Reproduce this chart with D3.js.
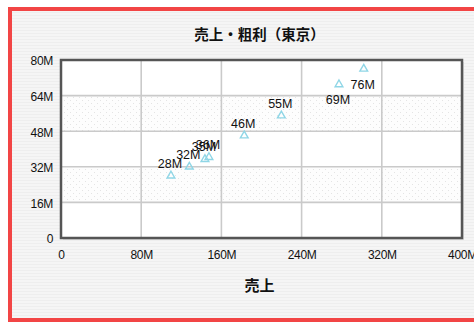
<!DOCTYPE html>
<html><head><meta charset="utf-8">
<script src="https://cdn.jsdelivr.net/npm/d3@7"></script>
<style>html,body{margin:0;padding:0;background:#fff;}svg{display:block;}</style>
</head><body>
<script>
const title = "売上・粗利（東京）";
const xTitle = "売上";
const salesM = [109.7, 128, 143.6, 147.6, 182.8, 219.8, 277.3, 302];
const profitM = [28, 32, 35.4, 36.3, 46, 55, 69, 76];
const xTicks = [0, 80, 160, 240, 320, 400];
const yTicks = [0, 16, 32, 48, 64, 80];
const fmt = v => v === 0 ? "0" : v + "M";

const W = 474, H = 323;
const svg = d3.select("body").append("svg").attr("width", W).attr("height", H);
const defs = svg.append("defs");
const stripe = defs.append("pattern").attr("id","bgp").attr("width",4).attr("height",3).attr("patternUnits","userSpaceOnUse");
stripe.append("rect").attr("width",4).attr("height",3).attr("fill","#f5f5f5");
stripe.append("rect").attr("width",4).attr("height",1).attr("fill","#eeeeee");
const dots = defs.append("pattern").attr("id","dots").attr("width",6).attr("height",6).attr("patternUnits","userSpaceOnUse");
dots.append("rect").attr("width",6).attr("height",6).attr("fill","#fdfdfd");
dots.append("rect").attr("x",1).attr("y",1).attr("width",1).attr("height",1).attr("fill","#e4e4e4");
dots.append("rect").attr("x",4).attr("y",4).attr("width",1).attr("height",1).attr("fill","#e4e4e4");

svg.append("rect").attr("width",W).attr("height",H).attr("fill","#fff");
svg.append("rect").attr("x",10).attr("y",9).attr("width",520).attr("height",311)
  .attr("fill","url(#bgp)").attr("stroke","#f24545").attr("stroke-width",4);

const m = {l:61, r:462, t:60, b:238};
const x = d3.scaleLinear().domain([0,400]).range([m.l, m.r]);
const y = d3.scaleLinear().domain([0,80]).range([m.b, m.t]);

// plot background
svg.append("rect").attr("x",m.l+2).attr("y",m.t+2).attr("width",m.r-m.l).attr("height",m.b-m.t).attr("fill","#dcdcdc");
svg.append("rect").attr("x",m.l).attr("y",m.t).attr("width",m.r-m.l).attr("height",m.b-m.t).attr("fill","#ffffff");
[[16,32],[48,64]].forEach(([a,b]) => {
  svg.append("rect").attr("x",m.l).attr("y",y(b)).attr("width",m.r-m.l).attr("height",y(a)-y(b)).attr("fill","url(#dots)");
});
// grid
svg.append("g").selectAll("line").data(yTicks.filter(v=>v>0&&v<80)).join("line")
  .attr("x1",m.l).attr("x2",m.r).attr("y1",d=>y(d)).attr("y2",d=>y(d))
  .attr("stroke","#cacaca").attr("stroke-width",1.6);
svg.append("g").selectAll("line").data(xTicks.filter(v=>v>0&&v<400)).join("line")
  .attr("y1",m.t).attr("y2",m.b).attr("x1",d=>x(d)).attr("x2",d=>x(d))
  .attr("stroke","#cacaca").attr("stroke-width",1.6);
svg.append("rect").attr("x",m.l).attr("y",m.t).attr("width",m.r-m.l).attr("height",m.b-m.t)
  .attr("fill","none").attr("stroke","#555").attr("stroke-width",2.5);

const font = "'Liberation Sans', Arial, sans-serif";
// axes
const xa = svg.append("g").attr("transform",`translate(0,${m.b+9})`)
  .call(d3.axisBottom(x).tickValues(xTicks).tickFormat(fmt).tickSize(0));
xa.select(".domain").remove();
xa.selectAll("text").attr("font-family",font).attr("font-size",12).attr("letter-spacing",-0.3).attr("fill","#111").attr("dy","0.71em");
const ya = svg.append("g").attr("transform",`translate(${m.l-5},0)`)
  .call(d3.axisLeft(y).tickValues(yTicks).tickFormat(fmt).tickSize(0));
ya.select(".domain").remove();
ya.selectAll("text").attr("font-family",font).attr("font-size",12).attr("letter-spacing",-0.3).attr("fill","#111").attr("dy","0.4em");

// titles
svg.append("text").attr("x",(m.l+m.r)/2 - 2).attr("y",40).attr("text-anchor","middle")
  .attr("font-family","'Noto Sans CJK JP', sans-serif").attr("font-weight","bold").attr("font-size",14.5).attr("fill","#111").text(title);
svg.append("text").attr("x",(m.l+m.r)/2 - 2).attr("y",291).attr("text-anchor","middle")
  .attr("font-family","'Noto Sans CJK JP', sans-serif").attr("font-weight","bold").attr("font-size",15).attr("fill","#111").text(xTitle);

// points
const pts = salesM.map((s,i)=>({s, p: profitM[i]}));
const tri = d3.symbol().type(d3.symbolTriangle).size(26);
svg.append("g").selectAll("path").data(pts).join("path")
  .attr("transform",d=>`translate(${x(d.s)},${y(d.p)})`).attr("d",tri)
  .attr("fill","none").attr("stroke","#8fd6e6").attr("stroke-width",1.4);
svg.append("g").selectAll("text").data(pts).join("text")
  .attr("x",d=>x(d.s)-1)
  .attr("y",d=>d.p>64 ? y(d.p)+20 : y(d.p)-8)
  .attr("text-anchor","middle").attr("font-family",font).attr("font-size",12.5).attr("fill","#111")
  .text(d=>Math.round(d.p)+"M");
</script>
</body></html>
